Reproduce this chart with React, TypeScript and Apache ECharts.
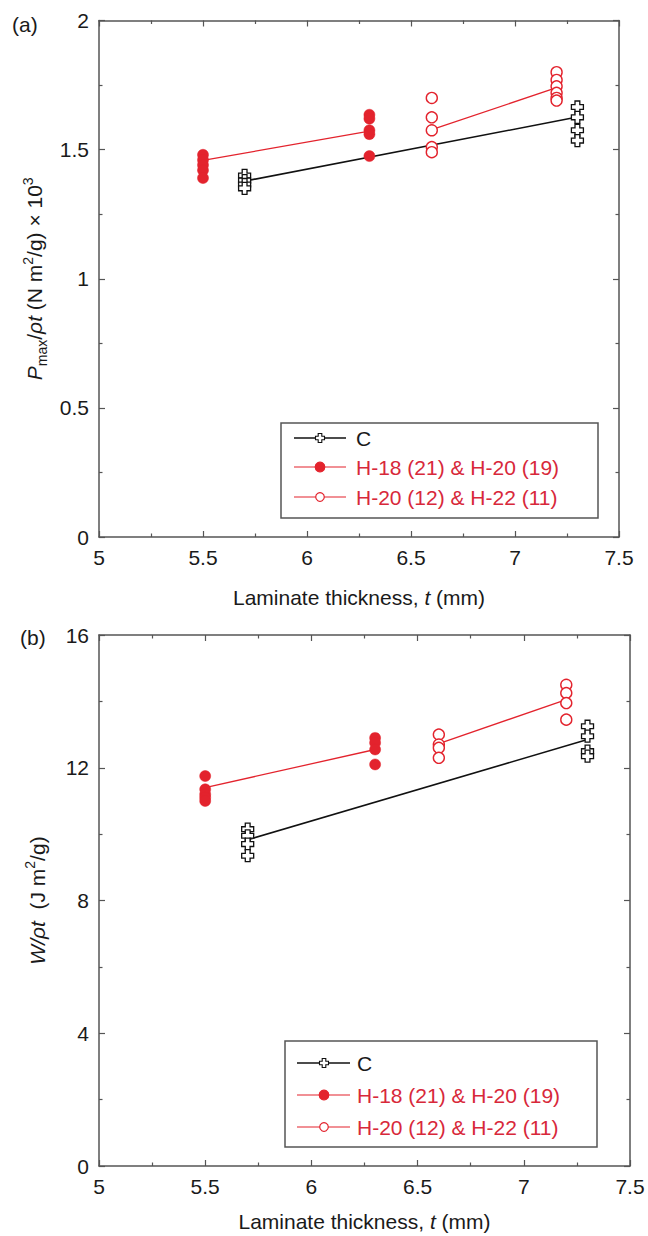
import React, { useEffect, useRef } from "react";
import * as echarts from "echarts";

// ---------- data ----------
// x positions (laminate thickness, mm) of each group
const xC = [5.7, 7.3];
const xH18 = [5.5, 6.3];
const xH20 = [6.6, 7.2];

// (a) Pmax/rho t  (x 10^3)
const aC = [
  [1.40, 1.38, 1.365, 1.35],
  [1.665, 1.625, 1.575, 1.535],
];
const aH18 = [
  [1.48, 1.46, 1.44, 1.42, 1.39],
  [1.635, 1.62, 1.575, 1.56, 1.475],
];
const aH20 = [
  [1.70, 1.625, 1.575, 1.51, 1.49],
  [1.80, 1.77, 1.745, 1.72, 1.70, 1.69],
];
const aLineC = [1.378, 1.626];
const aLineH18 = [1.458, 1.572];
const aLineH20 = [1.577, 1.74];

// (b) W/rho t
const bC = [
  [10.15, 9.95, 9.7, 9.35],
  [13.25, 12.95, 12.5, 12.35],
];
const bH18 = [
  [11.75, 11.35, 11.2, 11.1, 11.0],
  [12.9, 12.75, 12.55, 12.1],
];
const bH20 = [
  [13.0, 12.7, 12.6, 12.3],
  [14.5, 14.25, 13.95, 13.45],
];
const bLineC = [9.83, 12.85];
const bLineH18 = [11.4, 12.55];
const bLineH20 = [12.73, 14.05];

const legendNames = ["C", "H-18 (21) & H-20 (19)", "H-20 (12) & H-22 (11)"];
const xTicks = { min: 5, max: 7.5, interval: 0.5 };
const aTicks = { min: 0, max: 2, interval: 0.5 };
const bTicks = { min: 0, max: 16, interval: 4 };

// ---------- styles ----------
const FONT = '"Liberation Sans", Arial, Helvetica, sans-serif';
const RED = "#e3232d";
const BLACK = "#111111";
const AXIS = "#555555";
const CROSS = "path://M3,0H7V3H10V7H7V10H3V7H0V3H3Z";

function pts(xs: number[], groups: number[][]) {
  const out: number[][] = [];
  groups.forEach((g, i) => g.forEach((v) => out.push([xs[i], v])));
  return out;
}
function line(xs: number[], ys: number[]) {
  return xs.map((x, i) => [x, ys[i]]);
}

export default function App() {
  const ref = useRef<HTMLDivElement>(null);
  useEffect(() => {
    document.body.style.margin = "0";
    const chart = echarts.init(ref.current!, null, { renderer: "svg" });

    const axisBase = (show: boolean) => ({
      axisLine: { show: true, onZero: false, lineStyle: { color: AXIS, width: 1.5 } },
      axisTick: { show: true, inside: true, length: 6, lineStyle: { color: AXIS, width: 1.2 } },
      minorTick: { show: true, splitNumber: 2, length: 3.5, lineStyle: { color: AXIS, width: 1.2 } },
      splitLine: { show: false },
      minorSplitLine: { show: false },
      axisLabel: {
        show,
        fontSize: 21,
        color: "#1a1a1a",
        fontFamily: FONT,
        margin: 10,
      },
    });

    const xName = "Laminate thickness, {i|t} (mm)";
    const nameStyle = {
      fontSize: 21,
      color: "#1a1a1a",
      fontFamily: FONT,
      lineHeight: 28,
      rich: {
        i: { fontStyle: "italic", fontSize: 21, fontFamily: FONT, color: "#1a1a1a", lineHeight: 28 },
        sub: { fontSize: 14, fontFamily: FONT, color: "#1a1a1a", lineHeight: 14, verticalAlign: "bottom" },
        sup: { fontSize: 14, fontFamily: FONT, color: "#1a1a1a", lineHeight: 14, verticalAlign: "top" },
      },
    };

    const xAxes = [0, 1].flatMap((g) => [
      {
        type: "value",
        gridIndex: g,
        position: "bottom",
        ...xTicks,
        ...axisBase(true),
        name: xName,
        nameLocation: "middle",
        nameGap: g === 0 ? 46 : 41,
        nameTextStyle: nameStyle,
      },
      { type: "value", gridIndex: g, position: "top", ...xTicks, ...axisBase(false) },
    ]);

    const yAxes = [
      {
        type: "value",
        gridIndex: 0,
        position: "left",
        ...aTicks,
        ...axisBase(true),
        name: "{i|P}{sub|max}/{i|ρt} (N m{sup|2}/g) × 10{sup|3}",
        nameLocation: "middle",
        nameRotate: 90,
        nameGap: 50,
        nameTextStyle: nameStyle,
      },
      { type: "value", gridIndex: 0, position: "right", ...aTicks, ...axisBase(false) },
      {
        type: "value",
        gridIndex: 1,
        position: "left",
        ...bTicks,
        ...axisBase(true),
        name: "{i|W/ρt}  (J m{sup|2}/g)",
        nameLocation: "middle",
        nameRotate: 90,
        nameGap: 48,
        nameTextStyle: nameStyle,
      },
      { type: "value", gridIndex: 1, position: "right", ...bTicks, ...axisBase(false) },
    ];

    const mkSeries = (
      xi: number,
      yi: number,
      C: number[][],
      H18: number[][],
      H20: number[][],
      lC: number[],
      l18: number[],
      l20: number[]
    ) => [
      {
        type: "line", xAxisIndex: xi, yAxisIndex: yi, data: line(xC, lC), symbol: "none",
        lineStyle: { color: BLACK, width: 1.6 }, z: 2, silent: true,
      },
      {
        type: "line", xAxisIndex: xi, yAxisIndex: yi, data: line(xH18, l18), symbol: "none",
        lineStyle: { color: RED, width: 1.3 }, z: 2, silent: true,
      },
      {
        type: "line", xAxisIndex: xi, yAxisIndex: yi, data: line(xH20, l20), symbol: "none",
        lineStyle: { color: RED, width: 1.3 }, z: 2, silent: true,
      },
      {
        name: legendNames[0], type: "scatter", xAxisIndex: xi, yAxisIndex: yi, data: pts(xC, C),
        symbol: CROSS, symbolSize: 12,
        itemStyle: { color: "#ffffff", borderColor: BLACK, borderWidth: 1.3, opacity: 1 }, z: 3,
      },
      {
        name: legendNames[1], type: "scatter", xAxisIndex: xi, yAxisIndex: yi, data: pts(xH18, H18),
        symbol: "circle", symbolSize: 11,
        itemStyle: { color: RED, borderColor: RED, borderWidth: 0.5, opacity: 1 }, z: 3,
      },
      {
        name: legendNames[2], type: "scatter", xAxisIndex: xi, yAxisIndex: yi, data: pts(xH20, H20),
        symbol: "circle", symbolSize: 11,
        itemStyle: { color: "#ffffff", borderColor: RED, borderWidth: 1.4, opacity: 1 }, z: 3,
      },
    ];

    // legend drawn as graphic elements
    const crossPts = (cx: number, cy: number, s: number) => {
      const a = s * 0.2, b = s * 0.5;
      return [
        [cx - a, cy - b], [cx + a, cy - b], [cx + a, cy - a], [cx + b, cy - a],
        [cx + b, cy + a], [cx + a, cy + a], [cx + a, cy + b], [cx - a, cy + b],
        [cx - a, cy + a], [cx - b, cy + a], [cx - b, cy - a], [cx - a, cy - a],
      ];
    };
    const legendBox = (x: number, y: number, w: number, h: number, rows: number[], lx0: number, lx1: number, mx: number, tx: number) => {
      const els: any[] = [
        { type: "rect", shape: { x, y, width: w, height: h }, style: { fill: "#fff", stroke: AXIS, lineWidth: 1.5 }, z: 10 },
      ];
      rows.forEach((ry, i) => {
        const col = i === 0 ? BLACK : RED;
        els.push({ type: "line", shape: { x1: lx0, y1: ry, x2: lx1, y2: ry }, style: { stroke: col, lineWidth: i === 0 ? 1.4 : 1.2 }, z: 11 });
        if (i === 0) {
          els.push({ type: "polygon", shape: { points: crossPts(mx, ry, 9) }, style: { fill: "#fff", stroke: BLACK, lineWidth: 1.1 }, z: 12 });
        } else {
          els.push({ type: "circle", shape: { cx: mx, cy: ry, r: i === 1 ? 4.8 : 4.3 }, style: { fill: i === 1 ? RED : "#fff", stroke: RED, lineWidth: 1.2 }, z: 12 });
        }
        els.push({
          type: "text", x: tx, y: ry, z: 12,
          style: { text: legendNames[i], fill: i === 0 ? "#1a1a1a" : "#d8283a", font: `21px ${FONT}`, verticalAlign: "middle", align: "left" },
        });
      });
      return els;
    };

    chart.setOption({
      animation: false,
      backgroundColor: "#ffffff",
      grid: [
        { left: 99, top: 20.5, width: 520, height: 516.5 },
        { left: 99, top: 635, width: 531, height: 531 },
      ],
      xAxis: xAxes,
      yAxis: yAxes,
      series: [
        ...mkSeries(0, 0, aC, aH18, aH20, aLineC, aLineH18, aLineH20),
        ...mkSeries(2, 2, bC, bH18, bH20, bLineC, bLineH18, bLineH20),
      ],
      graphic: [
        { type: "text", x: 12, y: 24, style: { text: "(a)", font: `21px ${FONT}`, fill: "#1a1a1a", verticalAlign: "middle" } },
        { type: "text", x: 20, y: 637, style: { text: "(b)", font: `21px ${FONT}`, fill: "#1a1a1a", verticalAlign: "middle" } },
        ...legendBox(281, 423, 317, 95, [438, 467, 497], 294, 346, 320, 356),
        ...legendBox(285, 1041, 312, 106, [1063, 1095, 1127], 297, 350, 324, 357),
      ],
    });
    return () => chart.dispose();
  }, []);
  return <div ref={ref} style={{ width: 648, height: 1236 }} />;
}
